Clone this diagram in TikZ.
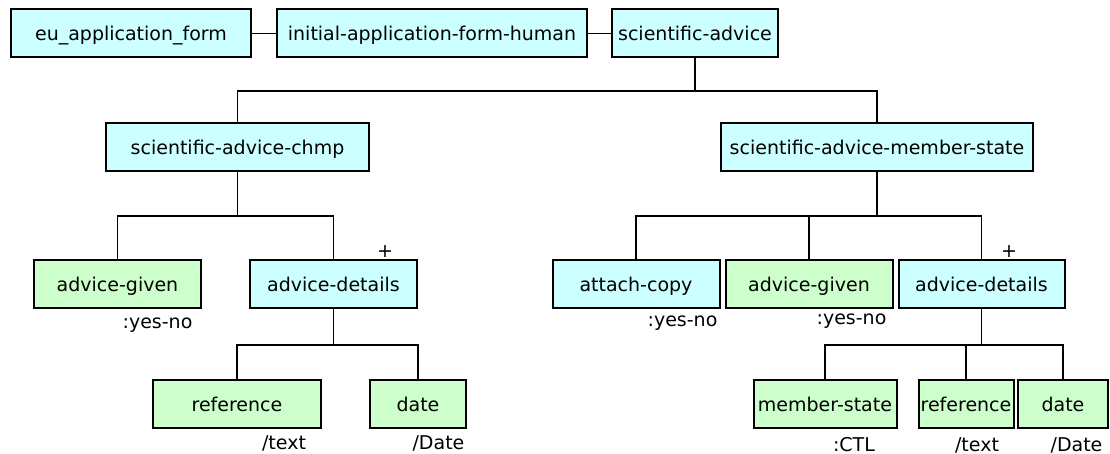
\documentclass[tikz,border=0pt]{standalone}
\usepackage{fontspec}
\setmainfont{DejaVu Sans}
\usepackage{xcolor}
\usepackage{tikz}

\definecolor{groupcol}{HTML}{CCFFFF}
\definecolor{fieldcol}{HTML}{CCFFCC}

\begin{document}
\begin{tikzpicture}[x=0.5pt, y=-0.5pt,
    box/.style={draw, line width=1pt, minimum height=24pt, inner sep=0pt, text depth=0pt, font=\fontsize{9.5}{11}\selectfont},
    group/.style={box, fill=groupcol},
    field/.style={box, fill=fieldcol},
    dtype/.style={inner sep=0pt, font=\fontsize{9.5}{11}\selectfont},
    link/.style={line width=0.9pt}]
    \useasboundingbox (0,0) rectangle (1110,454);

    % top row
    \node[group, minimum width=120pt] (euform) at (131,33.5) {eu\_application\_form};
    \node[group, minimum width=155pt] (initial) at (432,33.5) {initial-application-form-human};
    \node[group, minimum width=83pt] (sciadv) at (695,33.5) {scientific-advice};
    \draw[link] (euform) -- (initial);
    \draw[link] (initial) -- (sciadv);

    \node[group, minimum width=131.5pt] (chmp) at (237.5,147) {scientific-advice-chmp};
    \node[group, minimum width=156pt] (mstate) at (877,147) {scientific-advice-member-state};
    \draw[link] (sciadv.south) -- ++(0,32.5) -| (chmp.north);
    \draw[link] (sciadv.south) -- ++(0,32.5) -| (mstate.north);

    % chmp branch
    \node[field, minimum width=83.5pt] (given) at (117.5,284.5) {advice-given};
    \node[group, minimum width=83.5pt] (details) at (333.5,284.5) {advice-details};
    \draw[link] (chmp.south) -- ++(0,44) -| (given.north);
    \draw[link] (chmp.south) -- ++(0,44) -| (details.north);
    \node[dtype] (givenT) at (157.5,325) {:yes-no};
    \node[dtype] (detailsP) at (385,252) {+};

    \node[field, minimum width=84pt] (ref) at (237,404.5) {reference};
    \node[field, minimum width=48pt] (date) at (418,404.5) {date};
    \draw[link] (details.south) -- ++(0,35.5) -| (ref.north);
    \draw[link] (details.south) -- ++(0,35.5) -| (date.north);
    \node[dtype] (refT) at (284,443) {/text};
    \node[dtype] (dateT) at (438.5,443) {/Date};

    % member state branch
    \node[group, minimum width=83.5pt] (attach) at (636,284.5) {attach-copy};
    \node[field, minimum width=83.5pt] (givenb) at (809,284.5) {advice-given};
    \node[group, minimum width=83pt] (detailsb) at (981.5,284) {advice-details};
    \draw[link] (mstate.south) -- ++(0,44) -| (attach.north);
    \draw[link] (mstate.south) -- ++(0,44) -| (givenb.north);
    \draw[link] (mstate.south) -- ++(0,44) -| (detailsb.north);
    \node[dtype] (attachT) at (682.5,323) {:yes-no};
    \node[dtype] (givenbT) at (851.5,321) {:yes-no};
    \node[dtype] (detailsbP) at (1009,252) {+};

    \node[field, minimum width=71.5pt] (msb) at (825,404.5) {member-state};
    \node[field, minimum width=47.5pt] (refb) at (966,404.5) {reference};
    \node[field, minimum width=45pt] (dateb) at (1063,404.5) {date};
    \draw[link] (detailsb.south) -- ++(0,36) -| (msb.north);
    \draw[link] (detailsb.south) -- ++(0,36) -| (refb.north);
    \draw[link] (detailsb.south) -- ++(0,36) -| (dateb.north);
    \node[dtype] (msbT) at (854,445) {:CTL};
    \node[dtype] (refbT) at (977,445) {/text};
    \node[dtype] (datebT) at (1076.5,445) {/Date};
\end{tikzpicture}
\end{document}
